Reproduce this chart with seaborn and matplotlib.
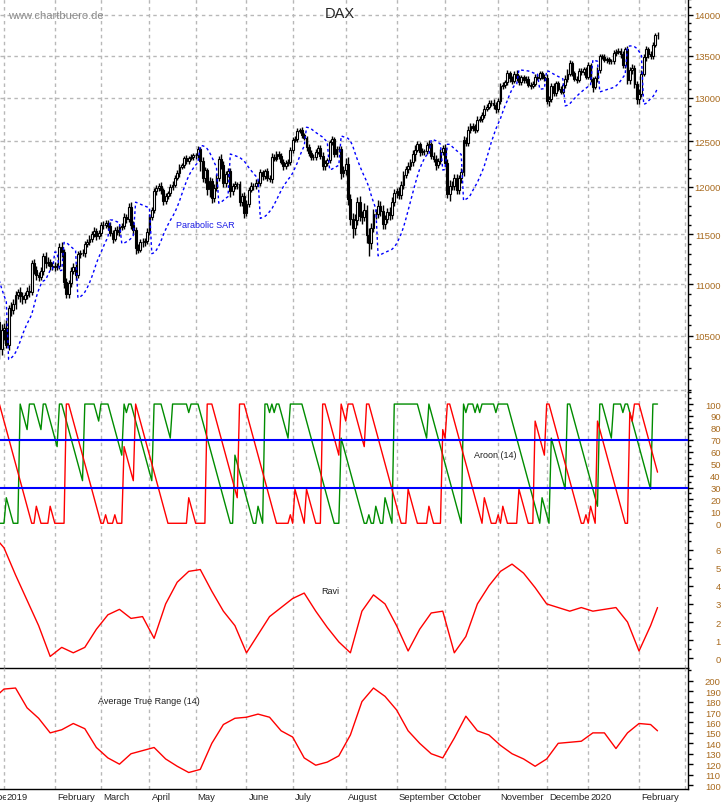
import numpy as np
import pandas as pd
import matplotlib
matplotlib.use("Agg")
import matplotlib.pyplot as plt
import matplotlib.ticker as mticker
import seaborn as sns

# ---------------- data (DAX daily Xetra) ----------------
holidays = ['2018-12-24', '2018-12-25', '2018-12-26', '2018-12-31', '2019-01-01',
            '2019-04-19', '2019-04-22', '2019-05-01', '2019-12-24', '2019-12-25',
            '2019-12-26', '2019-12-31', '2020-01-01']
first_day = '2018-12-03'
axis_end = '2020-03-06'
first_open = 11400

close = [
    # Dec 2018
    11465, 11335, 11200, 10811, 10788, 10622, 10780, 10931, 10924, 10865, 10772, 10740, 10767, 10611, 10634, 10382, 10559,
    # Jan 2019
    10580, 10417, 10768, 10747, 10804, 10893, 10922, 10887, 10856, 10892, 10931, 10919, 11205, 11136, 11090, 11071, 11130, 11281, 11210, 11219, 11181, 11173,
    # Feb
    11180, 11176, 11368, 11325, 11022, 10906, 11014, 11127, 11167, 11089, 11299, 11309, 11309, 11402, 11423, 11458, 11505, 11540, 11487, 11516,
    # Mar
    11602, 11593, 11620, 11588, 11518, 11458, 11543, 11524, 11573, 11587, 11686, 11657, 11788, 11603, 11550, 11364, 11346, 11419, 11419, 11429, 11526,
    # Apr
    11681, 11754, 11954, 11988, 12010, 11963, 11850, 11905, 11935, 11999, 12020, 12101, 12153, 12222, 12236, 12313, 12282, 12315, 12328, 12344,
    # May
    12345, 12412, 12286, 12093, 12180, 11974, 12060, 11877, 11992, 12099, 12310, 12239, 12042, 12143, 12168, 11952, 12011, 12027, 12028, 11837, 11902, 11727,
    # Jun
    11820, 11971, 12016, 12010, 12045, 12045, 12157, 12116, 12169, 12096, 12086, 12331, 12309, 12356, 12340, 12275, 12228, 12260, 12271, 12399,
    # Jul
    12521, 12526, 12617, 12630, 12569, 12544, 12437, 12373, 12332, 12323, 12387, 12430, 12342, 12227, 12260, 12289, 12490, 12522, 12362, 12419, 12417, 12147, 12189,
    # Aug
    12253, 11872, 11659, 11568, 11650, 11845, 11694, 11680, 11750, 11493, 11412, 11563, 11715, 11712, 11802, 11747, 11612, 11658, 11731, 11701, 11838, 11939,
    # Sep
    11953, 11911, 12025, 12126, 12192, 12227, 12269, 12360, 12410, 12469, 12380, 12390, 12389, 12457, 12468, 12342, 12307, 12234, 12288, 12381, 12428,
    # Oct
    12263, 11925, 12014, 12013, 12097, 11970, 12094, 12164, 12512, 12486, 12630, 12670, 12654, 12634, 12748, 12754, 12798, 12873, 12895, 12941, 12939, 12910, 12867,
    # Nov
    12961, 13136, 13148, 13180, 13289, 13228, 13199, 13283, 13230, 13180, 13242, 13207, 13221, 13151, 13138, 13163, 13247, 13233, 13288, 13245, 13236,
    # Dec
    12965, 12989, 13140, 13055, 13167, 13105, 13071, 13148, 13222, 13283, 13407, 13287, 13222, 13212, 13319, 13300, 13337, 13249,
    # Jan 2020
    13386, 13219, 13127, 13227, 13321, 13495, 13483, 13452, 13456, 13432, 13430, 13526, 13549, 13556, 13515, 13389, 13577, 13205, 13324, 13345, 13158, 12982,
    # Feb 2020
    13046, 13282, 13479, 13575, 13514, 13494, 13628, 13749, 13745,
]

# wick lengths above / below the candle body (points)
up_wick = [
    60, 70, 50, 40, 80, 60, 90, 70, 60, 40, 50, 60, 50, 80, 70, 60, 50,
    40, 70, 30, 60, 50, 40, 30, 50, 40, 30, 40, 60, 30, 50, 40, 30, 40, 30, 40, 50, 30, 40,
    40, 30, 40, 50, 30, 40, 30, 40, 40, 30, 30, 30, 40, 30, 30, 40, 30, 40, 30, 30,
    30, 40, 30, 30, 40, 30, 30, 40, 30, 30, 40, 30, 40, 50, 40, 30, 40, 30, 40, 30, 40,
    30, 30, 40, 30, 30, 40, 30, 30, 20, 30, 40, 30, 30, 30, 30, 30, 40, 20, 30, 30,
    30, 40, 30, 40, 40, 30, 50, 40, 40, 40, 30, 50, 40, 30, 40, 40, 30, 40, 30, 40, 30, 40,
    40, 30, 40, 30, 40, 30, 40, 30, 30, 40, 30, 40, 30, 40, 40, 30, 30, 30, 30, 40,
    30, 30, 30, 20, 30, 30, 20, 30, 30, 30, 30, 30, 30, 40, 30, 30, 30, 40, 30, 30, 30, 30, 40,
    60, 70, 50, 60, 60, 50, 60, 50, 80, 60, 70, 60, 50, 50, 60, 50, 60, 40, 50, 60, 50, 40,
    40, 50, 40, 50, 40, 40, 40, 40, 50, 40, 30, 40, 30, 40, 50, 30, 40, 40, 30, 40, 30,
    40, 40, 60, 50, 40, 40, 40, 40, 50, 40, 40, 40, 40, 40, 40, 30, 40, 40, 30, 30, 30, 40, 40,
    30, 40, 40, 30, 40, 30, 30, 30, 40, 40, 30, 30, 30, 30, 30, 30, 30, 30, 30, 30, 30,
    40, 30, 30, 30, 30, 30, 30, 30, 40, 60, 40, 30, 30, 30, 30, 30, 30, 30,
    40, 30, 30, 30, 40, 30, 30, 30, 30, 30, 30, 40, 30, 30, 40, 40, 30, 40, 40, 50, 40, 40,
    50, 40, 40, 40, 30, 40, 40, 30, 40,
]
dn_wick = [
    70, 60, 80, 120, 60, 80, 50, 60, 40, 70, 60, 50, 70, 60, 70, 100, 60,
    100, 30, 50, 60, 40, 50, 40, 60, 50, 40, 40, 50, 30, 40, 50, 40, 30, 40, 50, 30, 40, 30,
    40, 40, 30, 50, 60, 40, 40, 40, 30, 50, 30, 40, 30, 40, 30, 30, 40, 30, 40, 30,
    30, 40, 30, 40, 30, 50, 30, 30, 40, 30, 30, 40, 30, 50, 40, 60, 40, 30, 50, 40, 30,
    30, 30, 30, 40, 30, 40, 40, 30, 30, 30, 30, 20, 30, 40, 30, 30, 30, 30, 20, 30,
    40, 30, 110, 40, 50, 60, 80, 50, 40, 30, 30, 40, 40, 40, 30, 60, 40, 30, 50, 40, 40, 60,
    40, 30, 30, 40, 30, 30, 30, 40, 30, 30, 30, 40, 30, 30, 30, 30, 40, 30, 30, 30,
    30, 30, 30, 20, 30, 30, 40, 30, 40, 30, 30, 30, 40, 40, 40, 30, 30, 30, 40, 30, 40, 60, 40,
    60, 60, 60, 100, 70, 50, 50, 70, 40, 80, 130, 60, 40, 50, 40, 50, 60, 60, 40, 50, 40, 40,
    60, 40, 40, 50, 30, 40, 40, 40, 80, 30, 40, 30, 40, 30, 30, 40, 40, 50, 30, 40, 30,
    40, 40, 70, 40, 40, 40, 50, 50, 40, 40, 40, 30, 40, 40, 30, 30, 30, 30, 30, 30, 30, 40, 40,
    30, 30, 30, 40, 30, 40, 40, 30, 40, 30, 30, 30, 30, 30, 40, 30, 30, 30, 30, 30, 40,
    40, 60, 40, 30, 30, 30, 30, 30, 30, 40, 30, 30, 30, 40, 30, 30, 30, 30,
    30, 40, 60, 30, 40, 30, 30, 30, 40, 30, 30, 30, 30, 30, 40, 40, 40, 50, 40, 40, 40, 60,
    60, 40, 30, 40, 40, 40, 40, 30, 40,
]

# Ravi and ATR(14), read roughly once a week (trading-day index of each reading)
reading_day = [15] + list(range(17, 298, 5)) + [300]
ravi = [6.4, 6.1, 4.6, 3.2, 1.8, 0.1, 0.6, 0.3, 0.6, 1.6, 2.4,
        2.7, 2.2, 2.3, 1.1, 3.0, 4.2, 4.8, 4.9, 3.7, 2.6,
        1.8, 0.3, 1.3, 2.3, 2.8, 3.3, 3.6, 2.6, 1.7, 0.9,
        0.3, 2.6, 3.5, 3.0, 1.8, 0.4, 1.6, 2.5, 2.6, 0.3,
        1.2, 3.0, 4.0, 4.8, 5.2, 4.7, 3.9, 3.0, 2.8, 2.6,
        2.8, 2.6, 2.7, 2.8, 2.0, 0.4, 1.8, 2.8]
atr = [188, 192, 193, 174, 164, 150, 153, 159, 154, 136, 126,
       120, 130, 133, 136, 125, 118, 112, 115, 140, 158,
       164, 165, 168, 165, 152, 146, 126, 119, 122, 128,
       148, 180, 193, 185, 172, 152, 140, 130, 126, 145,
       166, 152, 148, 138, 130, 125, 118, 125, 140, 141,
       142, 150, 150, 135, 150, 159, 158, 152]

month_names = {1: None, 2: 'February', 3: 'March', 4: 'April', 5: 'May', 6: 'June',
               7: 'July', 8: 'August', 9: 'September', 10: 'October',
               11: 'November', 12: 'December'}


# ---------------- indicators computed from the candles ----------------
def parabolic_sar(high, low, step=0.02, amax=0.2):
    sar = np.zeros(len(high))
    up, af, ep = False, step, low[0]
    sar[0] = high[0]
    for i in range(1, len(high)):
        s = sar[i - 1] + af * (ep - sar[i - 1])
        if up:
            s = min(s, low[i - 1], low[max(i - 2, 0)])
            if low[i] < s:
                up, s, ep, af = False, ep, low[i], step
            elif high[i] > ep:
                ep, af = high[i], min(af + step, amax)
        else:
            s = max(s, high[i - 1], high[max(i - 2, 0)])
            if high[i] > s:
                up, s, ep, af = True, ep, high[i], step
            elif low[i] < ep:
                ep, af = low[i], min(af + step, amax)
        sar[i] = s
    return sar


def aroon(high, low, period=14):
    a_up = np.full(len(high), np.nan)
    a_dn = np.full(len(high), np.nan)
    for i in range(period, len(high)):
        h = high[i - period:i + 1][::-1]
        l = low[i - period:i + 1][::-1]
        a_up[i] = 100.0 * (period - np.argmax(h)) / period
        a_dn[i] = 100.0 * (period - np.argmin(l)) / period
    return a_up, a_dn


days = pd.bdate_range(first_day, axis_end)
days = days[~days.isin(pd.to_datetime(holidays))]

n = min(len(close), len(up_wick), len(dn_wick))
close = np.array(close[:n], dtype=float)
opn = np.r_[first_open, close[:-1]]
high = np.maximum(opn, close) + np.array(up_wick[:n])
low = np.minimum(opn, close) - np.array(dn_wick[:n])
x = np.arange(n)
sar = parabolic_sar(high, low)
a_up, a_dn = aroon(high, low)

month_pos = [i for i in range(len(days)) if i == 0 or days[i].month != days[i - 1].month]
week_pos = [i for i in range(1, len(days))
            if days[i].isocalendar()[1] != days[i - 1].isocalendar()[1] and i not in month_pos]

# ---------------- figure ----------------
sns.set_style('white')
plt.rcParams['font.family'] = ['Liberation Sans', 'DejaVu Sans']
plt.rcParams['axes.linewidth'] = 1.0

W, H = 723, 803
fig = plt.figure(figsize=(W / 100, H / 100), dpi=100)
grid_col = '#b8b8b8'
tick_col = '#a86a1e'
xlim = (15.27, 313.2)


def panel(top, bottom):
    return fig.add_axes([0, 1 - bottom / H, 688 / W, (bottom - top) / H])


ax_p = panel(0, 393)
ax_a = panel(393, 530)
ax_r = panel(530, 669)
ax_t = panel(669, 790)

# price panel: candles + parabolic SAR
ax_p.set_yscale('log')
is_up = close >= opn
body_lo = np.minimum(opn, close)
body_hi = np.maximum(opn, close)
ax_p.vlines(x, low, high, color='black', lw=1, zorder=3)
ax_p.bar(x, np.maximum(body_hi - body_lo, 3), bottom=body_lo, width=0.8,
         color=np.where(is_up, 'white', 'black'), edgecolor='black', linewidth=0.8, zorder=4)
sns.lineplot(x=x, y=sar, ax=ax_p, color='#0000ff', linewidth=1, linestyle=(0, (2, 2)), zorder=5)
ax_p.set_ylim(9986, 14202)
ax_p.yaxis.set_major_locator(mticker.FixedLocator(range(10500, 14001, 500)))
ax_p.yaxis.set_major_formatter(mticker.FuncFormatter(lambda v, p: f'{v:.0f}'))
ax_p.yaxis.set_minor_locator(mticker.FixedLocator(range(10000, 14201, 100)))
ax_p.yaxis.set_minor_formatter(mticker.NullFormatter())
for v in range(10000, 14001, 500):
    ax_p.axhline(v, color=grid_col, lw=1, ls=(0, (2.5, 2.5)), zorder=0)

# Aroon panel
xa = x[14:]
sns.lineplot(x=xa, y=a_up[14:], ax=ax_a, color='#008c00', linewidth=1, zorder=3)
sns.lineplot(x=xa, y=a_dn[14:], ax=ax_a, color='#ff0000', linewidth=1, zorder=4)
for v in (30, 70):
    ax_a.axhline(v, color='#0000ff', lw=1.5, zorder=5)
ax_a.set_ylim(-4.8, 110.1)
ax_a.yaxis.set_major_locator(mticker.FixedLocator(range(0, 101, 10)))
ax_a.yaxis.set_minor_locator(mticker.FixedLocator(range(0, 111, 5)))

# Ravi panel
sns.lineplot(x=reading_day, y=ravi, ax=ax_r, color='#ff0000', linewidth=1)
ax_r.set_ylim(-0.54, 7.14)
ax_r.yaxis.set_major_locator(mticker.FixedLocator(range(0, 7)))
ax_r.yaxis.set_minor_locator(mticker.FixedLocator(np.arange(0, 7.01, 0.5)))

# ATR panel
sns.lineplot(x=reading_day, y=atr, ax=ax_t, color='#ff0000', linewidth=1)
ax_t.set_ylim(96.2, 212.2)
ax_t.yaxis.set_major_locator(mticker.FixedLocator(range(100, 201, 10)))
ax_t.yaxis.set_minor_locator(mticker.FixedLocator(range(100, 211, 10)))

ax_t.set_xticks(month_pos)
ax_t.set_xticks(week_pos, minor=True)

for ax in (ax_p, ax_a, ax_r, ax_t):
    ax.set_facecolor('none')
    ax.set_xlabel('')
    ax.set_ylabel('')
    for s in ('top', 'left', 'bottom'):
        ax.spines[s].set_visible(False)
    ax.spines['right'].set_color('black')
    ax.yaxis.tick_right()
    ax.tick_params(axis='y', which='major', direction='out', length=3.6, width=1,
                   pad=20, labelsize=6.8, labelcolor=tick_col, color='black')
    ax.tick_params(axis='y', which='minor', direction='out', length=2.2, width=1, color='black')
    plt.setp(ax.get_yticklabels(), ha='right')
    for p in month_pos:
        ax.axvline(p, color=grid_col, lw=1, ls=(0, (2.5, 2.5)), zorder=0)
    if ax is not ax_t:
        ax.set_xticks([])
        ax.set_xticks([], minor=True)
    ax.set_xlim(xlim)

ax_r.spines['bottom'].set_visible(True)
ax_r.spines['bottom'].set_color('black')

ax_t.spines['bottom'].set_visible(True)
ax_t.spines['bottom'].set_color('black')
ax_t.tick_params(axis='x', which='major', direction='out', length=10, width=1,
                 labelbottom=False, color='black')
ax_t.tick_params(axis='x', which='minor', direction='out', length=3, width=1, color='black')
for p in month_pos:
    if p > xlim[1] - 2:
        continue
    is_year = days[p].month == 1
    name = str(days[p].year) if is_year else month_names[days[p].month]
    box = dict(boxstyle='square,pad=0.05', fc='white', ec='none') if is_year else None
    ax_t.annotate(name, xy=(p, 0), xycoords=('data', 'axes fraction'),
                  xytext=(1.5, -5.3), textcoords='offset points',
                  ha='left', va='center', fontsize=6.8, annotation_clip=False, bbox=box)


# texts
def ftext(px, py, s, **kw):
    fig.text(px / W, 1 - py / H, s, va='center', **kw)


ftext(340, 14, 'DAX', ha='center', fontsize=10.5)
ftext(8, 16, 'www.chartbuero.de', ha='left', fontsize=8, color='#8c8c8c')
ftext(205, 226, 'Parabolic SAR', ha='center', fontsize=6.5, color='#1a1ae6')
ftext(495, 456, 'Aroon (14)', ha='center', fontsize=6.5, color='#202020')
ftext(330, 591, 'Ravi', ha='center', fontsize=6.5, color='#202020')
ftext(149, 702, 'Average True Range (14)', ha='center', fontsize=6.5, color='#202020')

fig.savefig('out.png', dpi=100, facecolor='white')
